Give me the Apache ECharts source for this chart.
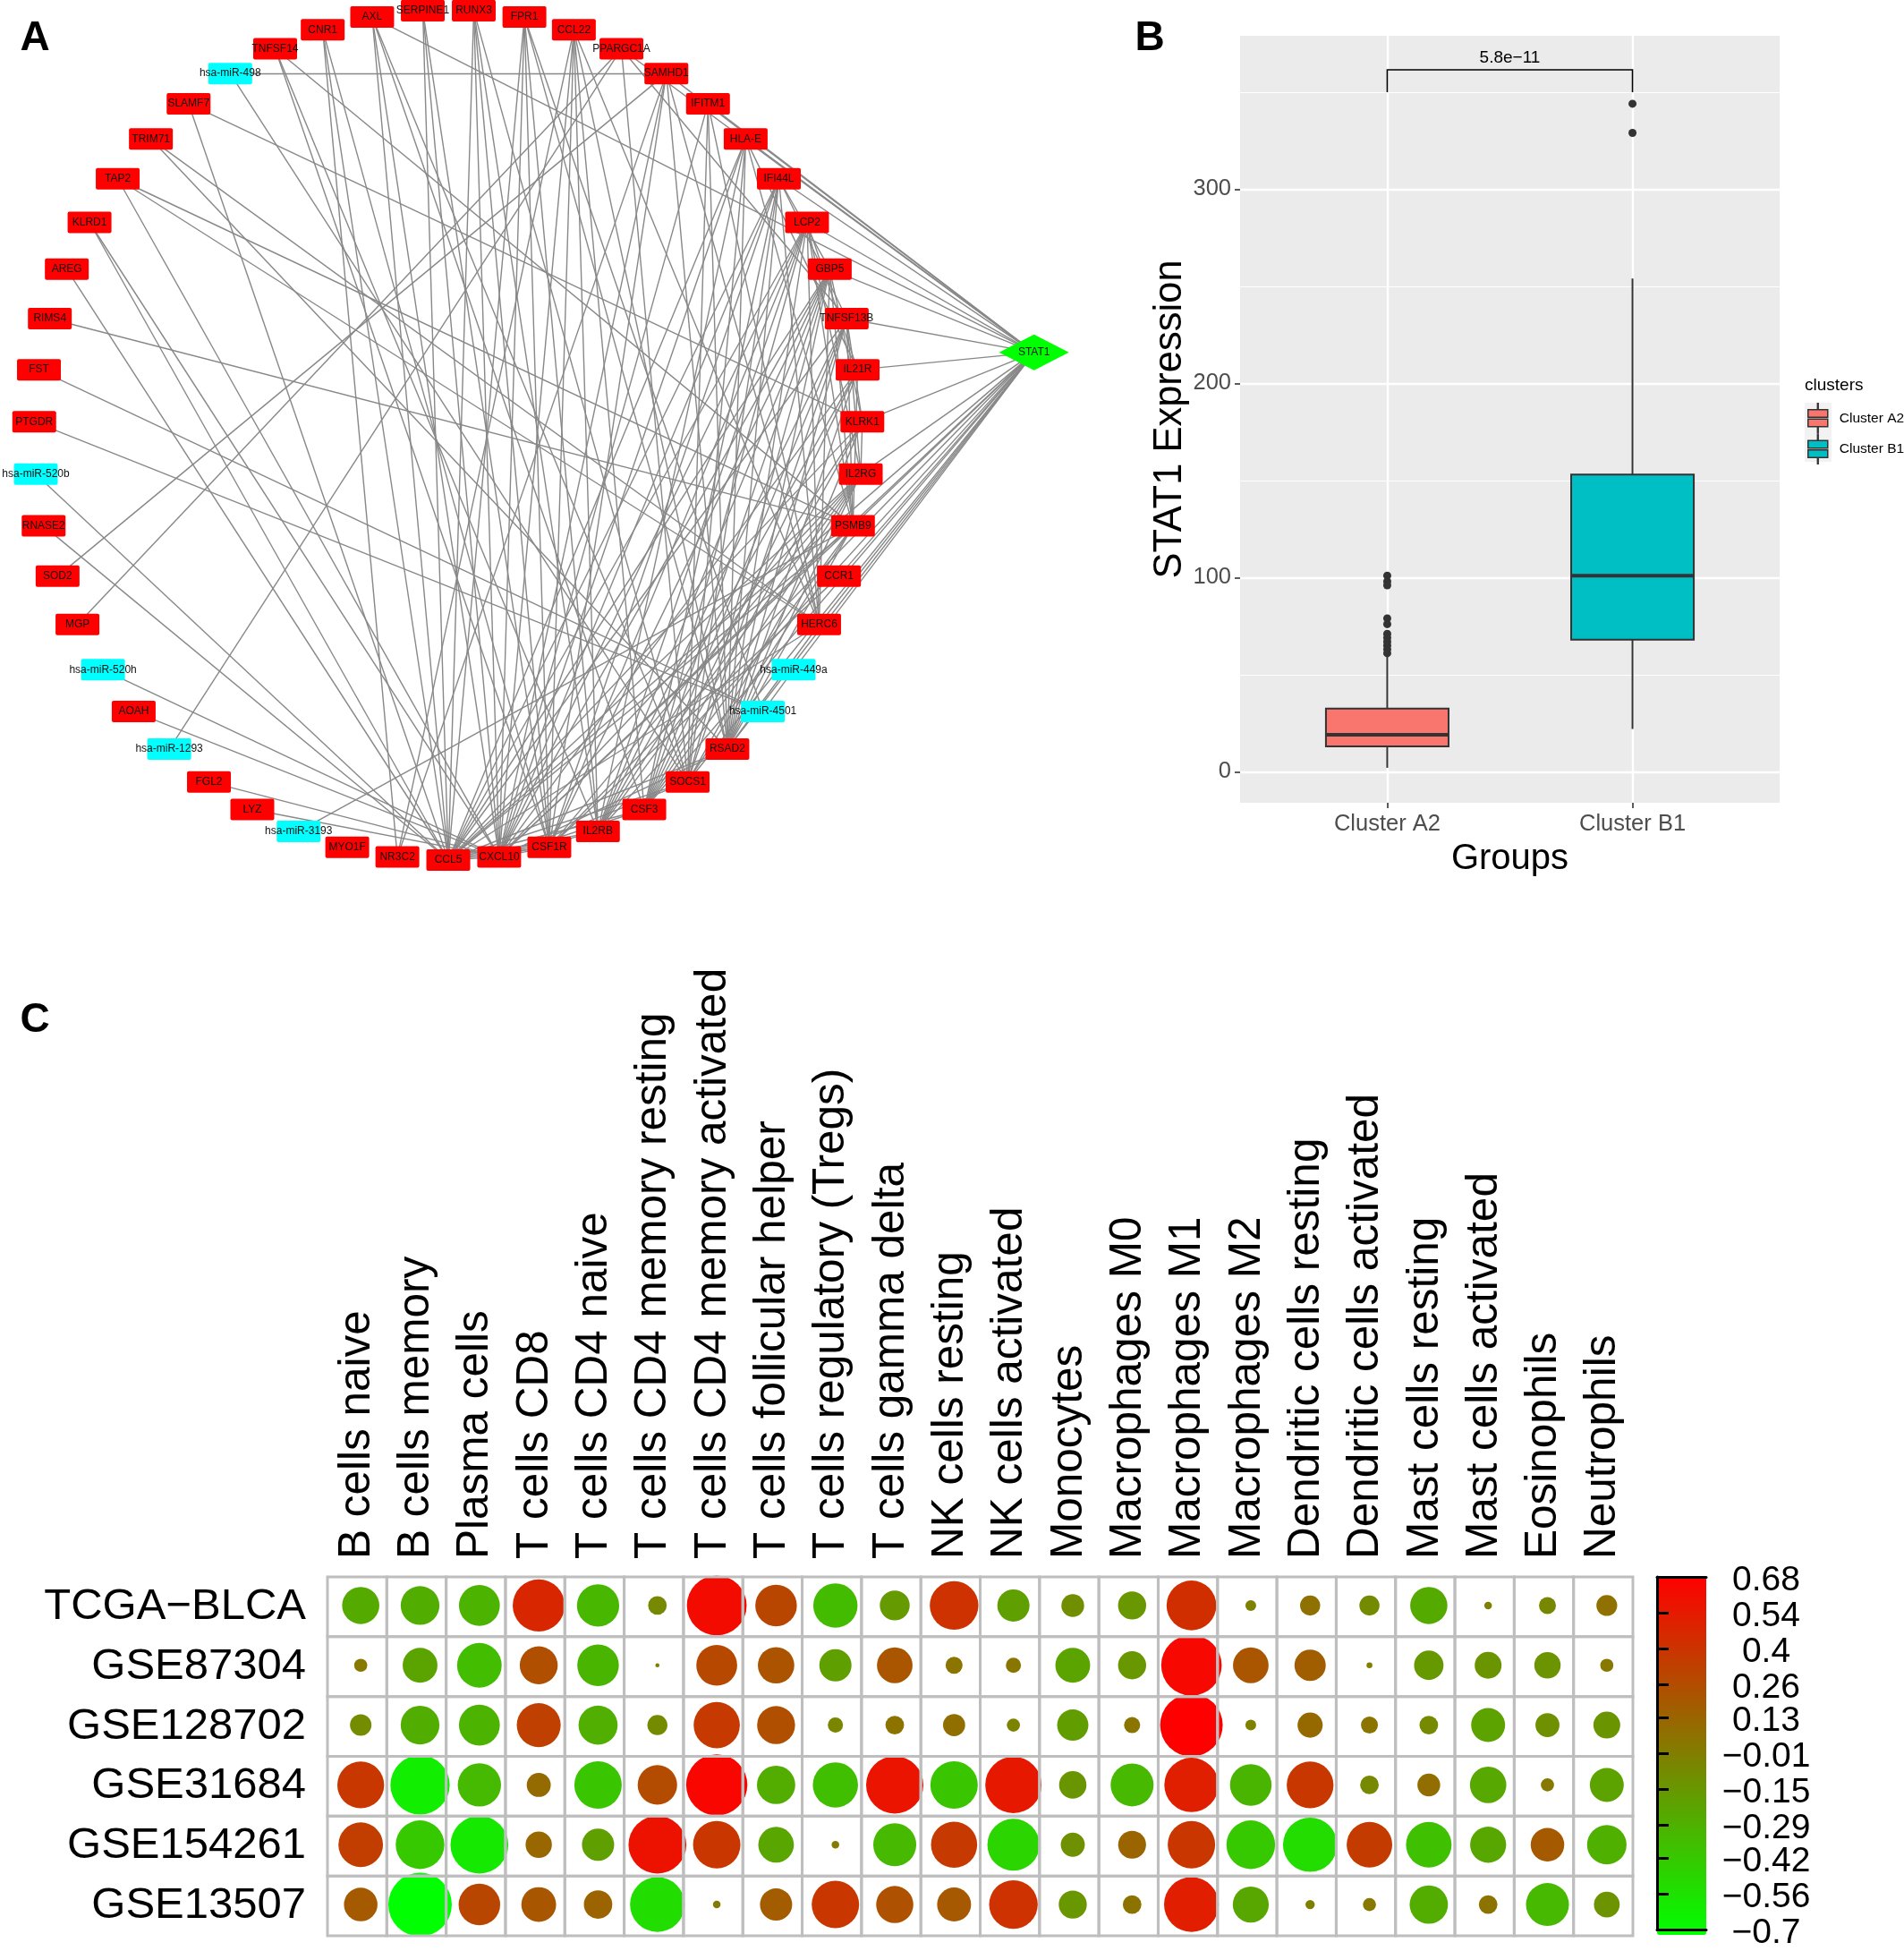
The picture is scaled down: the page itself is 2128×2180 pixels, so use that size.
<!DOCTYPE html>
<html><head><meta charset="utf-8">
<style>html,body{margin:0;padding:0;background:#fff}#c{width:2128px;height:2180px}</style>
<script src="https://cdn.jsdelivr.net/npm/echarts@6/dist/echarts.min.js"></script>
</head><body><div id="c"></div>
<script>
// ---------- Panel A data ----------
const ringNodes = ['CCL5','NR3C2','MYO1F','hsa-miR-3193','LYZ','FGL2','hsa-miR-1293','AOAH','hsa-miR-520h','MGP','SOD2','RNASE2','hsa-miR-520b','PTGDR','FST','RIMS4','AREG','KLRD1','TAP2','TRIM71','SLAMF7','hsa-miR-498','TNFSF14','CNR1','AXL','SERPINE1','RUNX3','FPR1','CCL22','PPARGC1A','SAMHD1','IFITM1','HLA-E','IFI44L','LCP2','GBP5','TNFSF13B','IL21R','KLRK1','IL2RG','PSMB9','CCR1','HERC6','hsa-miR-449a','hsa-miR-4501','RSAD2','SOCS1','CSF3','IL2RB','CSF1R','CXCL10'];
const hubNode = 'STAT1';
const hubPosition = [1.414, 0.194];
const edgeGroups = {
  STAT1:['AXL','PPARGC1A','SAMHD1','IFITM1','HLA-E','IFI44L','LCP2','GBP5','TNFSF13B','IL21R','KLRK1','IL2RG','PSMB9','CCR1','HERC6','hsa-miR-449a','RSAD2','SOCS1','CSF3','IL2RB','CSF1R','CXCL10','CCL5'],
  CCL5:['CNR1','AXL','SERPINE1','RUNX3','FPR1','HLA-E','IFI44L','LCP2','GBP5','TNFSF13B','KLRK1','IL2RG','PSMB9','HERC6','RSAD2','SOCS1','CSF3','IL2RB','CSF1R','CXCL10','KLRD1','AREG','hsa-miR-520b','RNASE2','SLAMF7'],
  CXCL10:['AXL','SERPINE1','RUNX3','FPR1','CCL22','SAMHD1','IFITM1','HLA-E','IFI44L','LCP2','GBP5','IL21R','IL2RG','PSMB9','RSAD2','SOCS1','CSF3','IL2RB','CSF1R','LYZ','FGL2','AOAH','hsa-miR-520h','KLRD1','TAP2'],
  CSF1R:['RUNX3','FPR1','CCL22','SERPINE1','CNR1','IFI44L','LCP2','GBP5','IL2RG','CCR1','TNFSF14','SAMHD1'],
  IL2RB:['RUNX3','FPR1','LCP2','GBP5','KLRK1','IL2RG','TNFSF14','CCL22','HLA-E','IL21R','TNFSF13B'],
  CSF3:['AXL','CCL22','IL21R','IL2RG','GBP5','IFI44L','PSMB9','LCP2','TNFSF13B','KLRK1'],
  SOCS1:['RUNX3','AXL','HLA-E','IL2RG','PSMB9','IFI44L','hsa-miR-498','GBP5','TNFSF13B','IFITM1','PPARGC1A'],
  RSAD2:['TRIM71','SAMHD1','IFITM1','HLA-E','IFI44L','LCP2','GBP5','TNFSF13B','IL2RG','PSMB9','HERC6','FPR1','CCL22','IL21R','KLRK1'],
  HERC6:['IFI44L','GBP5','TAP2','IFITM1','SAMHD1','CCL22','TRIM71','LCP2'],
  PSMB9:['RIMS4','TAP2','TNFSF14','HLA-E','LCP2','GBP5','hsa-miR-3193','IL21R','TNFSF13B'],
  KLRK1:['SLAMF7','GBP5','TNFSF13B'],
  IL2RG:['LCP2','TNFSF13B','KLRK1'],
  IL21R:['LCP2','HLA-E'],
  TNFSF13B:['PPARGC1A','IFI44L'],
  GBP5:['IFI44L'],
  'hsa-miR-4501':['FST','PTGDR','FPR1','hsa-miR-449a'],
  NR3C2:['CNR1','SAMHD1','CCL22'],
  PPARGC1A:['MGP','hsa-miR-1293'],
  SAMHD1:['SOD2','hsa-miR-498']
};
// ---------- Panel B data ----------
const groupNames = ['Cluster A2','Cluster B1'];
const boxA2 = [1, 2, 13, 19, 32.5, 60];
const boxB1 = [2, 22, 68, 101, 153, 254];
const outliersA2 = [101,98,96,79,76,71,69,67,65,63,61];
const outliersB1 = [344,329];
const pLabel = '5.8e\u221211';
const bracketValues = [1, 2, 350, 361.5];
const yMajor = [0,100,200,300];
const yMinor = [50,150,250,350];
// ---------- Panel C data ----------
const cellTypes = ['B cells naive','B cells memory','Plasma cells','T cells CD8','T cells CD4 naive','T cells CD4 memory resting','T cells CD4 memory activated','T cells follicular helper','T cells regulatory (Tregs)','T cells gamma delta','NK cells resting','NK cells activated','Monocytes','Macrophages M0','Macrophages M1','Macrophages M2','Dendritic cells resting','Dendritic cells activated','Mast cells resting','Mast cells activated','Eosinophils','Neutrophils'];
const cohorts = ['TCGA\u2212BLCA','GSE87304','GSE128702','GSE31684','GSE154261','GSE13507'];
const corrTCGA = [-.24,-.26,-.29,.47,-.31,-.06,.62,.30,-.34,-.155,.41,-.18,-.09,-.137,.43,-.02,.07,-.07,-.24,-.01,-.05,.075];
const corr87304 = [.03,-.21,-.345,.25,-.30,-.003,.29,.23,-.18,.22,.05,.04,-.21,-.137,.635,.22,.17,-.006,-.15,-.125,-.12,.03];
const corr128702 = [-.08,-.26,-.29,.335,-.265,-.07,.37,.25,-.04,.06,.085,-.03,-.17,.045,.68,-.02,.11,.05,-.06,-.20,-.10,-.125];
const corr31684 = [.38,-.61,-.325,.10,-.39,.27,.65,-.255,-.355,.57,-.39,.55,-.13,-.32,.51,-.30,.38,-.06,.09,-.23,.03,-.20];
const corr154261 = [.345,-.41,-.58,.12,-.18,.58,.39,-.22,.01,-.32,.37,-.47,-.10,.135,.39,-.41,-.51,.36,-.36,-.225,.195,-.27];
const corr13507 = [.195,-.70,.30,.21,.14,-.52,.01,.18,.39,.24,.20,.41,-.137,.06,.52,-.225,-.015,.03,-.255,.06,-.32,-.115];
const corrRows = [corrTCGA,corr87304,corr128702,corr31684,corr154261,corr13507];
const colorTicks = [0.68,0.54,0.4,0.26,0.13,-0.01,-0.15,-0.29,-0.42,-0.56,-0.7];

const FONT = '"Liberation Sans", Arial, sans-serif';
const chart = echarts.init(document.getElementById('c'), null, {renderer:'canvas'});

const step = 2*Math.PI/ringNodes.length;
const nodeIcon = 'path://M2 0H47Q49 0 49 2V22Q49 24 47 24H2Q0 24 0 22V2Q0 0 2 0Z';
const graphNodes = ringNodes.map((name,i)=>({
  name,
  value:[-Math.sin(i*step), -Math.cos(i*step)],
  itemStyle:{color:name.startsWith('hsa-')?'#00FFFF':'#FF0000'}
}));
graphNodes.push({name:hubNode, value:hubPosition, symbol:'diamond', symbolSize:[78,40], itemStyle:{color:'#00FF00'}});
const links = [];
Object.keys(edgeGroups).forEach(a=>edgeGroups[a].forEach(b=>links.push({source:a,target:b})));

const dots = [];
const cells = [];
corrRows.forEach((row,r)=>row.forEach((v,c)=>{dots.push([c,r,v]);cells.push([c,r]);}));
const gridC = {left:366,top:1762,width:1459,height:401};

function renderBox(params, api){
  const x=api.value(0), lo=api.value(1), q1=api.value(2), med=api.value(3), q3=api.value(4), hi=api.value(5);
  const w=api.size([0.5,0])[0];
  const cx=api.coord([x,med])[0];
  const y=v=>api.coord([x,v])[1];
  const fill=api.visual('color');
  const stroke={stroke:'#333333',lineWidth:2,fill:null};
  return {type:'group',children:[
    {type:'line',shape:{x1:cx,y1:y(hi),x2:cx,y2:y(q3)},style:stroke},
    {type:'line',shape:{x1:cx,y1:y(q1),x2:cx,y2:y(lo)},style:stroke},
    {type:'rect',shape:{x:cx-w/2,y:y(q3),width:w,height:y(q1)-y(q3)},style:{fill,stroke:'#333333',lineWidth:2}},
    {type:'line',shape:{x1:cx-w/2,y1:y(med),x2:cx+w/2,y2:y(med)},style:{stroke:'#333333',lineWidth:4,fill:null}}
  ]};
}
function renderBracket(params, api){
  const x1=api.value(0), x2=api.value(1), y0=api.value(2), y1=api.value(3);
  const a=api.coord([x1,y0]), b=api.coord([x1,y1]), c=api.coord([x2,y1]), d=api.coord([x2,y0]);
  return {type:'group',children:[
    {type:'polyline',shape:{points:[a,b,c,d]},style:{stroke:'#000',lineWidth:1.6,fill:null}},
    {type:'text',style:{x:(b[0]+c[0])/2,y:b[1]-4,text:pLabel,font:'19px '+FONT,fill:'#000',textAlign:'center',textVerticalAlign:'bottom'}}
  ]};
}
const legendIcon='path://M11.6 0H12.4V7H11.6Z M1 7H23V15.5H1Z M1 17.5H23V26H1Z M11.6 26H12.4V33H11.6Z';
const outlierSeries=(arr,x)=>({type:'scatter',xAxisIndex:1,yAxisIndex:1,data:arr.map(v=>[x,v]),symbolSize:9,itemStyle:{color:'#333333',opacity:1},silent:true,z:5});

const option={
  animation:false,
  backgroundColor:'#fff',
  textStyle:{fontFamily:FONT},
  grid:[
    {left:1,top:1.5,width:1194.5,height:969},
    {left:1386,top:40,width:603,height:857,show:true,backgroundColor:'#EBEBEB',borderWidth:0},
    gridC,
    {left:1852,top:1762,width:55,height:400}
  ],
  xAxis:[
    {gridIndex:0,type:'value',min:-1.08,max:1.5,show:false},
    {gridIndex:1,type:'value',min:0.4,max:2.6,
      name:'Groups',nameLocation:'middle',nameGap:43,nameTextStyle:{fontSize:40,color:'#000',fontFamily:FONT},
      axisLine:{show:false,onZero:false},
      axisTick:{show:true,length:6,customValues:[1,2],lineStyle:{color:'#333',width:1.6}},
      axisLabel:{customValues:[1,2],formatter:v=>groupNames[v-1],fontSize:25.5,color:'#4D4D4D',margin:11,fontFamily:FONT},
      splitLine:{show:true,lineStyle:{color:'#fff',width:2.4}}},
    {gridIndex:2,type:'category',data:cellTypes,position:'top',
      axisLine:{show:false},axisTick:{show:false},
      axisLabel:{rotate:-90,interval:0,fontSize:49.5,color:'#000',margin:20,fontFamily:FONT},
      splitLine:{show:false}},
    {gridIndex:3,type:'value',min:0,max:1,position:'bottom',z:6,axisLine:{onZero:false,lineStyle:{color:'#000',width:3}},axisTick:{show:false},axisLabel:{show:false},splitLine:{show:false}},
    {gridIndex:3,type:'value',min:0,max:1,position:'top',z:6,axisLine:{onZero:false,lineStyle:{color:'#000',width:3}},axisTick:{show:false},axisLabel:{show:false},splitLine:{show:false}}
  ],
  yAxis:[
    {gridIndex:0,type:'value',min:-1.02,max:1.02,show:false},
    {gridIndex:1,type:'value',min:-16,max:379,
      name:'STAT1 Expression',nameLocation:'middle',nameGap:53,nameRotate:90,nameTextStyle:{fontSize:43.5,color:'#000',fontFamily:FONT},
      axisLine:{show:false},
      axisTick:{show:true,length:6,customValues:yMajor,lineStyle:{color:'#333',width:1.6}},
      axisLabel:{customValues:yMajor,fontSize:25.5,color:'#4D4D4D',margin:10,fontFamily:FONT},
      splitLine:{show:true,lineStyle:{color:'#fff',width:2.4}}},
    {gridIndex:1,type:'value',min:-16,max:379,
      axisLine:{show:false},axisTick:{show:false,customValues:yMinor},axisLabel:{show:false,customValues:yMinor},
      splitLine:{show:true,lineStyle:{color:'#fff',width:1.2}}},
    {gridIndex:2,type:'category',data:cohorts,inverse:true,
      axisLine:{show:false},axisTick:{show:false},
      axisLabel:{interval:0,fontSize:49,color:'#000',margin:24,padding:[0,0,5,0],fontFamily:FONT},
      splitLine:{show:false}},
    {gridIndex:3,type:'value',min:-0.7,max:0.68,position:'right',z:6,
      axisLine:{show:false},
      axisTick:{show:true,length:13,customValues:colorTicks,lineStyle:{color:'#000',width:3}},
      axisLabel:{customValues:colorTicks,formatter:v=>'{t|'+String(v).replace('-','\u2212')+'}',margin:67,align:'center',
        rich:{t:{fontSize:39,color:'#000',fontFamily:FONT,padding:[8,0,0,0]}}},
      splitLine:{show:false}},
    {gridIndex:3,type:'value',min:-0.7,max:0.68,position:'left',z:6,
      axisLine:{show:true,onZero:false,lineStyle:{color:'#000',width:3}},axisTick:{show:false},axisLabel:{show:false},splitLine:{show:false}}
  ],
  legend:{
    data:groupNames,orient:'vertical',left:2020,top:450,padding:0,itemWidth:24,itemHeight:33,itemGap:0,icon:legendIcon,
    selectedMode:false,z:10,
    itemStyle:{borderColor:'#333333',borderWidth:1.5},
    textStyle:{fontSize:15.5,color:'#000',fontFamily:FONT,padding:[0,0,0,7]}
  },
  visualMap:{
    type:'continuous',seriesIndex:7,dimension:2,min:-0.7,max:0.68,left:1852,top:1762,itemWidth:55,itemHeight:400,padding:0,
    text:null,calculable:false,hoverLink:false,showLabel:false,inRange:{color:['#00FF00','#FF0000']},z:4
  },
  graphic:[
    {type:'rect',z:0,shape:{x:2017,y:450,width:30,height:33},style:{fill:'#F2F2F2'}},
    {type:'rect',z:0,shape:{x:2017,y:483,width:30,height:33},style:{fill:'#F2F2F2'}},
    {type:'text',z:1,x:2017,y:431,style:{text:'clusters',font:'19px '+FONT,fill:'#000',textVerticalAlign:'middle'}},
    {type:'text',z:20,x:39,y:43,style:{text:'A',font:'bold 46px '+FONT,fill:'#000',textAlign:'center',textVerticalAlign:'middle'}},
    {type:'text',z:20,x:1285,y:43,style:{text:'B',font:'bold 46px '+FONT,fill:'#000',textAlign:'center',textVerticalAlign:'middle'}},
    {type:'text',z:20,x:39,y:1140,style:{text:'C',font:'bold 46px '+FONT,fill:'#000',textAlign:'center',textVerticalAlign:'middle'}}
  ],
  series:[
    {type:'graph',coordinateSystem:'cartesian2d',xAxisIndex:0,yAxisIndex:0,layout:'none',
      symbol:nodeIcon,symbolSize:[49,24],data:graphNodes,links,
      label:{show:true,position:'inside',fontSize:12,color:'#111',fontFamily:FONT},
      lineStyle:{color:'#888888',width:1.4,opacity:1,curveness:0},silent:true},
    {type:'custom',name:groupNames[0],xAxisIndex:1,yAxisIndex:1,renderItem:renderBox,data:[boxA2],itemStyle:{color:'#F8766D'},encode:{x:0,y:[1,2,3,4,5]},z:4,silent:true},
    {type:'custom',name:groupNames[1],xAxisIndex:1,yAxisIndex:1,renderItem:renderBox,data:[boxB1],itemStyle:{color:'#00BFC4'},encode:{x:0,y:[1,2,3,4,5]},z:4,silent:true},
    outlierSeries(outliersA2,1),
    outlierSeries(outliersB1,2),
    {type:'custom',xAxisIndex:1,yAxisIndex:1,renderItem:renderBracket,data:[bracketValues],encode:{x:[0,1],y:[2,3]},clip:false,z:5,silent:true},
    {type:'line',xAxisIndex:3,yAxisIndex:5,data:[],silent:true},
    {type:'scatter',xAxisIndex:2,yAxisIndex:3,data:dots,symbolSize:d=>Math.sqrt(Math.abs(d[2])/0.7)*71,symbolOffset:[4,-1.5],itemStyle:{opacity:1},clip:false,z:3,silent:true},
    {type:'scatter',xAxisIndex:2,yAxisIndex:3,data:cells,symbol:'rect',symbolSize:[gridC.width/cellTypes.length,gridC.height/cohorts.length],
      itemStyle:{color:'rgba(0,0,0,0)',borderColor:'#BEBEBE',borderWidth:3,opacity:1},clip:false,z:6,silent:true}
  ]
};
chart.setOption(option);
</script></body></html>
